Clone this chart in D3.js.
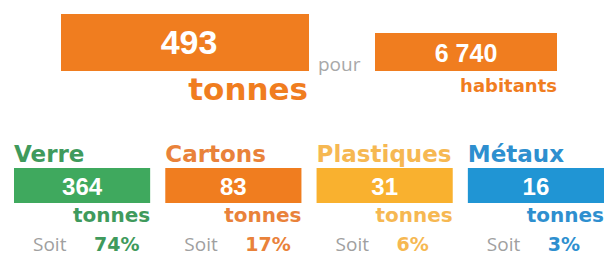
<!DOCTYPE html>
<html>
<head>
<meta charset="utf-8">
<script src="https://cdn.jsdelivr.net/npm/d3@7"></script>
<style>
    body { margin: 0; background: #fff; }
    svg { display: block; }
</style>
</head>
<body>
<svg id="chart" width="606" height="257"></svg>
<script>
// Totals shown on the top row
const totalTonnes = 493;
const inhabitants = 6740;

// Materials shown on the bottom row
const categories = ["Verre", "Cartons", "Plastiques", "Métaux"];
const tonnes = [364, 83, 31, 16];
const shares = [74, 17, 6, 3];
const colors = ["#3fa95e", "#f07d1f", "#f9b12f", "#2095d4"];
const titleColors = ["#3f9a5c", "#e9823a", "#f6b852", "#2e8fcf"];

const orange = "#f07d1f";
const grey = "#a0a0a0";
const numFont = "'Liberation Sans', Arial, sans-serif";
const boldFont = "'DejaVu Sans', sans-serif";
const lightFont = "'Open Sans', sans-serif";

const svg = d3.select("#chart");

// Number formatting with a space as thousands separator
const fr = d3.formatLocale({decimal: ",", thousands: " ", grouping: [3], currency: ["", " €"]});
const fmt = fr.format(",d");

// ---- Top row ----
const header = svg.append("g");

// Big block: total tonnes
header.append("rect")
    .attr("x", 61).attr("y", 14)
    .attr("width", 248).attr("height", 57)
    .attr("fill", orange);
header.append("text")
    .attr("x", 189).attr("y", 54)
    .attr("text-anchor", "middle")
    .attr("font-family", numFont).attr("font-weight", 700)
    .attr("font-size", 34).attr("fill", "#fff")
    .text(fmt(totalTonnes));
header.append("text")
    .attr("x", 308).attr("y", 100)
    .attr("text-anchor", "end")
    .attr("font-family", boldFont).attr("font-weight", 700)
    .attr("font-size", 31).attr("fill", orange)
    .text("tonnes");

header.append("text")
    .attr("x", 318).attr("y", 71)
    .attr("font-family", lightFont).attr("font-weight", 400)
    .attr("font-size", 19).attr("fill", "#a8a8a8")
    .text("pour");

// Small block: inhabitants
header.append("rect")
    .attr("x", 375).attr("y", 33)
    .attr("width", 182).attr("height", 38)
    .attr("fill", orange);
header.append("text")
    .attr("x", 466).attr("y", 62)
    .attr("text-anchor", "middle")
    .attr("font-family", numFont).attr("font-weight", 700)
    .attr("font-size", 25).attr("fill", "#fff")
    .text(fmt(inhabitants));
header.append("text")
    .attr("x", 557).attr("y", 92)
    .attr("text-anchor", "end")
    .attr("font-family", boldFont).attr("font-weight", 700)
    .attr("font-size", 18).attr("fill", orange)
    .text("habitants");

// ---- Bottom row: one panel per material ----
const x = d3.scaleBand()
    .domain(categories)
    .range([14, 604])
    .paddingInner(0.1);

const data = categories.map((c, i) => ({
    name: c, tonnes: tonnes[i], share: shares[i], color: colors[i], title: titleColors[i]
}));

const panel = svg.selectAll("g.panel")
    .data(data)
    .join("g")
    .attr("class", "panel")
    .attr("transform", d => "translate(" + x(d.name) + ",0)");

panel.append("text")
    .attr("x", 0).attr("y", 162)
    .attr("font-family", boldFont).attr("font-weight", 700)
    .attr("font-size", 23).attr("fill", d => d.title)
    .text(d => d.name);

panel.append("rect")
    .attr("x", 0).attr("y", 168)
    .attr("width", x.bandwidth()).attr("height", 35)
    .attr("fill", d => d.color);

panel.append("text")
    .attr("x", x.bandwidth() / 2).attr("y", 195)
    .attr("text-anchor", "middle")
    .attr("font-family", numFont).attr("font-weight", 700)
    .attr("font-size", 24).attr("fill", "#fff")
    .text(d => fmt(d.tonnes));

panel.append("text")
    .attr("x", x.bandwidth()).attr("y", 222)
    .attr("text-anchor", "end")
    .attr("font-family", boldFont).attr("font-weight", 700)
    .attr("font-size", 20).attr("fill", d => d.title)
    .text("tonnes");

panel.append("text")
    .attr("x", 19).attr("y", 251)
    .attr("font-family", lightFont).attr("font-weight", 400)
    .attr("font-size", 19).attr("fill", grey)
    .text("Soit");

panel.append("text")
    .attr("x", 80).attr("y", 251)
    .attr("font-family", boldFont).attr("font-weight", 700)
    .attr("font-size", 19).attr("fill", d => d.title)
    .text(d => d.share + "%");
</script>
</body>
</html>
